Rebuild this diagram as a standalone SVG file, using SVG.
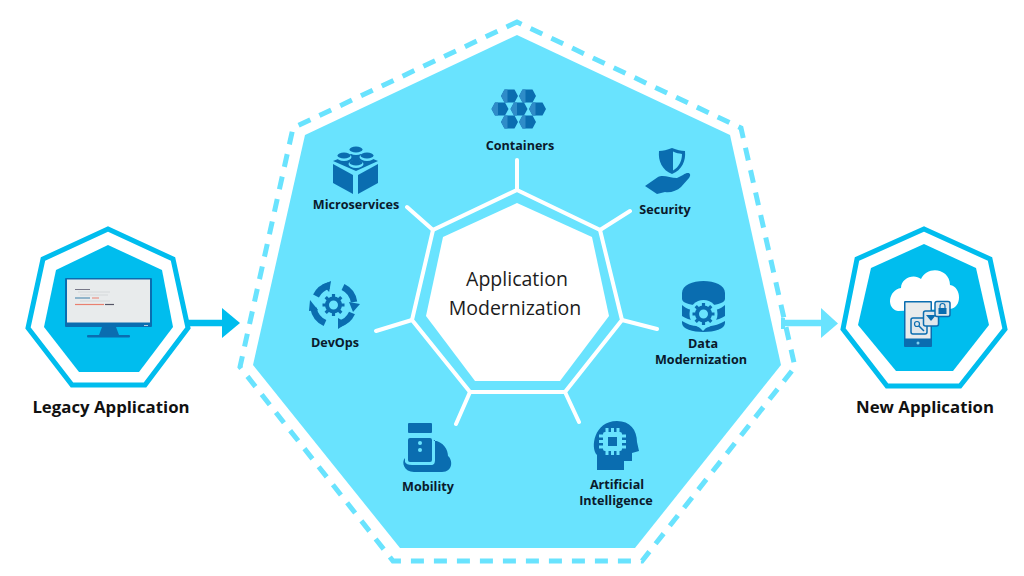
<svg xmlns="http://www.w3.org/2000/svg" width="1024" height="576" viewBox="0 0 1024 576">
<style>
.lb{font-family:"Open Sans","Liberation Sans",sans-serif;font-weight:700;font-size:12.6px;fill:#0a1a2c;text-anchor:middle}
.lg{font-size:16.8px;fill:#111}
.ct{font-family:"Open Sans","Liberation Sans",sans-serif;font-weight:400;font-size:19.5px;fill:#1c1c1c;text-anchor:middle}
.ic{fill:#0a6db0}
.w{stroke:#fff;fill:none;stroke-width:4;stroke-linecap:round;stroke-linejoin:miter}
.cy{fill:#00bdee}
.cs{fill:none;stroke:#00bdee;stroke-width:5}
.lt{fill:#69e3fe}
</style>
<defs>
<g id="hex"><polygon points="-8.500,0 -5,-6.500 5,-6.500 8.500,0 5,6.500 -5,6.500" fill="#0a6db0"/><polygon points="-8.500,0 -5,-6.500 -2,-6.500 -2,6.500 -5,6.500" fill="#2f8cc8"/></g>
<g id="gear"><circle r="6.500" fill="none" stroke="#0a6db0" stroke-width="4"/><path d="M0-11V-7M0 7V11M-11 0H-7M7 0H11M-7.800-7.800L-5-5M5 5L7.800 7.800M-7.800 7.800L-5 5M5-5L7.800-7.800" stroke="#0a6db0" stroke-width="3.200"/></g>
</defs>

<g id="connectors">
<path d="M188 323H224" stroke="#00bdee" stroke-width="6.500" fill="none"/>
<polygon points="222,308 240,323 222,338" class="cy"/>
<path d="M782 323H823" stroke="#69e3fe" stroke-width="6.500" fill="none"/>
<rect x="781" y="318" width="4" height="11" class="lt"/>
<polygon points="821,308 838,323.500 821,338" class="lt"/>
</g>

<g id="modernization-hub">
<polygon points="517,22 741,128 795,367 642,561 393,561 240,367 293,128" fill="none" stroke="#69e3fe" stroke-width="5" stroke-dasharray="13 10" stroke-dashoffset="8"/>
<polygon points="517,35 730,135 781,365 635,548 400,548 253,365 305,135" class="lt"/>
<polygon points="517,190 600,230 622,320 565,392 470,392 412,320 433,230" class="w"/>
<path class="w" d="M517 190V160M600 230L630 211M622 320L657 329M565 392L579 422M470 392L456 424M412 320L376 331M433 230L407 207"/>
<polygon points="517,203 592,237 609,316 560,381 475,381 426,316 443,237" fill="#fff"/>
<text class="ct" x="517" y="286">Application</text>
<text class="ct" x="515" y="315">Modernization</text>
</g>

<g id="legacy-application">
<polygon points="108,229 173,259 188,328 145,385 72,385 28,328 43,259" class="cs"/>
<polygon points="108,245 162,270 173,327 139,372 79,372 44,327 56,270" class="cy"/>
<rect x="65" y="278" width="87" height="49" rx="1" fill="#0a6db0"/>
<rect x="67" y="279.500" width="83" height="43" fill="#e8ebec"/>
<polygon points="102,327 116,327 119,335 99,335" fill="#0a6db0"/>
<rect x="87" y="335" width="43" height="2.500" rx="1" fill="#0a6db0"/>
<rect x="144" y="325" width="4" height="1" fill="#bcd"/>
<path d="M75 289.500H90" stroke="#778" stroke-width="1"/>
<path d="M78 292H110M80 295H108" stroke="#d4d8da" stroke-width="1"/>
<path d="M75 298H90" stroke="#3a7fa8" stroke-width="1"/><path d="M92 298H99" stroke="#e98070" stroke-width="1"/>
<path d="M80 301H110" stroke="#d4d8da" stroke-width="1"/>
<path d="M75 304.500H104" stroke="#e98070" stroke-width="1.200"/><path d="M105 304.500H114" stroke="#556" stroke-width="1.200"/>
<text class="lb lg" x="111" y="413">Legacy Application</text>
</g>

<g id="new-application">
<polygon points="924,229 990,259 1005,329 960,386 887,386 843,329 857,259" class="cs"/>
<polygon points="924,244 976,268 989,325 953,371 896,371 858,325 871,268" class="cy"/>
<path d="M898 311C886 309 888 290 901 288C901 278 914 273 921 279C927 265 950 268 950 285C962 287 962 308 950 309Z" fill="#fff"/>
<rect x="904" y="301" width="28" height="46" rx="1" fill="#0a6db0"/>
<rect x="905.500" y="302.500" width="25" height="36" fill="#e8ebec"/>
<circle cx="918" cy="343" r="1.500" fill="#7fd0f0"/>
<rect x="911" y="318" width="16" height="16" rx="2" fill="#dfe7ec" stroke="#0a6db0" stroke-width="1.500"/>
<circle cx="917" cy="324" r="2.500" fill="none" stroke="#0a6db0" stroke-width="1.200"/><path d="M919 326L924 331" stroke="#0a6db0" stroke-width="1.500"/>
<rect x="923.500" y="311" width="15" height="15" rx="2" fill="#dfe7ec" stroke="#0a6db0" stroke-width="1.500"/>
<path d="M926 315L931 321L936 315Z" fill="#0a6db0"/>
<rect x="935" y="301.500" width="15" height="15" rx="2" fill="#dfe7ec" stroke="#0a6db0" stroke-width="1.500"/>
<rect x="938.500" y="308" width="8" height="6" fill="#0a6db0"/><path d="M940 308V306A2.500 2.500 0 0 1 945 306V308" fill="none" stroke="#0a6db0" stroke-width="1.200"/>
<text class="lb lg" x="925" y="413">New Application</text>
</g>

<g id="containers">
<use href="#hex" x="509.500" y="96"/>
<use href="#hex" x="527.500" y="96"/>
<use href="#hex" x="500" y="109"/>
<use href="#hex" x="519" y="109"/>
<use href="#hex" x="537.500" y="109"/>
<use href="#hex" x="509.500" y="122"/>
<use href="#hex" x="527.500" y="122"/>
<text class="lb" x="520" y="150">Containers</text>
</g>

<g id="microservices">
<polygon points="333,164 353,175 353,194 333,183" class="ic"/>
<polygon points="378,164 358,175 358,194 378,183" class="ic"/>
<polygon points="356,152 378,161 356,171 333,161" class="ic"/>
<g fill="#69e3fe"><ellipse cx="356" cy="151" rx="7.500" ry="4"/><ellipse cx="344" cy="157" rx="7.500" ry="4"/><ellipse cx="367" cy="157" rx="7.500" ry="4"/><ellipse cx="356" cy="164" rx="7.500" ry="4"/></g>
<g class="ic"><ellipse cx="356" cy="149.500" rx="6.500" ry="3"/><ellipse cx="344" cy="155.500" rx="6.500" ry="3"/><ellipse cx="367" cy="155.500" rx="6.500" ry="3"/><ellipse cx="356" cy="162.500" rx="6.500" ry="3"/></g>
<text class="lb" x="356" y="209">Microservices</text>
</g>

<g id="security">
<path d="M672 148C677 150 681 151 685 151C686 161 682 170 672 174C662 170 658 161 659 151C663 151 667 150 672 148Z" class="ic"/>
<path d="M673 151.500C676 153 679 153.500 682 154C682 161 679 167 673 170.500Z" fill="#69e3fe"/>
<path d="M645 186L658 177C663 174 670 178 677 178L683 175C689 171 692 174 689 178L681 187C677 191 670 193 665 192L657 194Z" class="ic"/>
<text class="lb" x="665" y="214">Security</text>
</g>

<g id="devops">
<g fill="none" stroke="#0a6db0" stroke-width="6.500">
<path d="M316 296A20 20 0 0 1 329 285.500"/><path d="M343 287A20 20 0 0 1 354 302"/><path d="M352 313A20 20 0 0 1 339 324"/><path d="M325 323A20 20 0 0 1 313.500 308"/>
</g>
<polygon points="330,281 330,292 322,286" class="ic" transform="rotate(10 330 287)"/>
<polygon points="349,302 360,304 353,312" class="ic"/>
<polygon points="338,318 338,329 347,323" class="ic"/>
<polygon points="310,300 318,310 309,311" class="ic"/>
<use href="#gear" x="333.500" y="305"/>
<text class="lb" x="335" y="347">DevOps</text>
</g>

<g id="data-modernization">
<path d="M682 293C682 277 725 277 725 293V299C725 308 682 308 682 299Z" class="ic"/>
<path d="M682 305C686 309 692 310 696 311V321C690 320 685 318 682 316Z" class="ic"/>
<path d="M725 305C721 309 715 310 711 311V321C717 320 722 318 725 316Z" class="ic"/>
<path d="M682 321C687 324 692 326 698 326L703 331L708 326C714 326 720 324 725 321V323C725 335 682 335 682 323Z" class="ic"/>
<circle cx="703.500" cy="314" r="14" fill="#69e3fe"/>
<use href="#gear" x="703.500" y="314"/>
<text class="lb" x="703" y="348">Data</text>
<text class="lb" x="701" y="364">Modernization</text>
</g>

<g id="artificial-intelligence">
<path d="M617 421C630 421 637 430 637 442L639 451L632 453V461H624V470H597V455C590 448 594 421 617 421Z" class="ic"/>
<rect x="603" y="432" width="19" height="19" rx="2" fill="#69e3fe"/>
<path d="M607 428V455M612.500 428V455M618 428V455M599 436H626M599 441.500H626M599 447H626" stroke="#69e3fe" stroke-width="3" fill="none"/>
<rect x="608" y="437" width="9" height="9" class="ic"/>
<text class="lb" x="617" y="489">Artificial</text>
<text class="lb" x="616" y="505">Intelligence</text>
</g>

<g id="mobility">
<path d="M433 440C444 442 448 450 448 456C453 460 453 472 442 472H414C404 472 401 462 405 458V462C406 464 408 465 412 465H431C434 465 435 463 435 460V440Z" class="ic"/>
<rect x="408" y="423" width="24" height="10" rx="1" class="ic"/>
<rect x="408" y="438" width="24" height="24" rx="2" class="ic"/>
<circle cx="420" cy="443" r="2" fill="#69e3fe"/>
<circle cx="420" cy="450" r="2" fill="#69e3fe"/>
<text class="lb" x="428" y="491">Mobility</text>
</g>
</svg>
